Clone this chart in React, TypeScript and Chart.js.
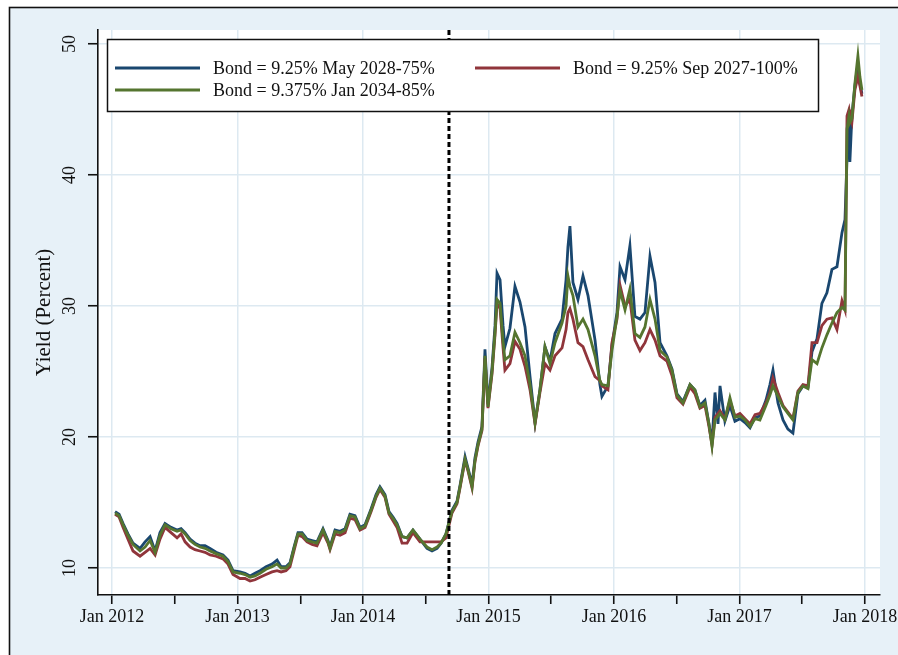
import React, { useEffect, useRef } from "react";
import { Chart, registerables } from "chart.js";

Chart.register(...registerables);

// Decimal-year dates of the observations
const dates = [
  2012.024, 2012.056, 2012.088, 2012.127, 2012.167, 2012.223, 2012.263, 2012.303, 2012.343, 2012.382,
  2012.422, 2012.47, 2012.518, 2012.55, 2012.582, 2012.622, 2012.661, 2012.701, 2012.741, 2012.781,
  2012.829, 2012.884, 2012.924, 2012.964, 2013.02, 2013.06, 2013.1, 2013.139, 2013.179, 2013.227,
  2013.275, 2013.315, 2013.347, 2013.386, 2013.418, 2013.45, 2013.482, 2013.514, 2013.554, 2013.594,
  2013.633, 2013.681, 2013.721, 2013.737, 2013.777, 2013.817, 2013.857, 2013.896, 2013.936, 2013.976,
  2014.016, 2014.064, 2014.104, 2014.135, 2014.175, 2014.207, 2014.239, 2014.271, 2014.311, 2014.351,
  2014.398, 2014.454, 2014.51, 2014.55, 2014.59, 2014.622, 2014.661, 2014.709, 2014.749, 2014.773,
  2014.813, 2014.837, 2014.869, 2014.892, 2014.916, 2014.948, 2014.972, 2014.996, 2015.028, 2015.052,
  2015.068, 2015.092, 2015.116, 2015.131, 2015.171, 2015.211, 2015.251, 2015.291, 2015.331, 2015.371,
  2015.41, 2015.45, 2015.49, 2015.53, 2015.586, 2015.618, 2015.633, 2015.649, 2015.673, 2015.713,
  2015.753, 2015.793, 2015.849, 2015.888, 2015.904, 2015.952, 2015.984, 2016.024, 2016.048, 2016.088,
  2016.127, 2016.167, 2016.207, 2016.247, 2016.287, 2016.327, 2016.367, 2016.422, 2016.462, 2016.502,
  2016.55, 2016.606, 2016.645, 2016.685, 2016.725, 2016.757, 2016.781, 2016.805, 2016.829, 2016.845,
  2016.884, 2016.924, 2016.964, 2017.004, 2017.044, 2017.084, 2017.124, 2017.163, 2017.211, 2017.243,
  2017.267, 2017.307, 2017.347, 2017.386, 2017.426, 2017.466, 2017.506, 2017.546, 2017.578, 2017.618,
  2017.657, 2017.697, 2017.737, 2017.777, 2017.817, 2017.841, 2017.857, 2017.873, 2017.88, 2017.896,
  2017.92, 2017.944, 2017.96, 2017.976,
];

// Bond = 9.25% May 2028-75% (navy)
const bondMay2028 = [
  14.3, 14.1, 13.4, 12.6, 11.9, 11.5, 12.0, 12.4, 11.3, 12.7,
  13.4, 13.1, 12.9, 13.0, 12.7, 12.2, 11.9, 11.7, 11.7, 11.5,
  11.2, 11.0, 10.6, 9.8, 9.7, 9.6, 9.4, 9.6, 9.8, 10.1,
  10.3, 10.6, 10.1, 10.1, 10.4, 11.6, 12.7, 12.7, 12.2, 12.1,
  12.0, 13.0, 12.1, 11.6, 12.9, 12.8, 13.0, 14.1, 14.0, 13.1,
  13.3, 14.5, 15.6, 16.2, 15.6, 14.3, 13.9, 13.4, 12.4, 12.3,
  12.9, 12.2, 11.5, 11.3, 11.5, 11.9, 12.6, 14.4, 15.1, 16.3,
  18.5, 17.6, 16.4, 18.4, 19.6, 20.8, 26.7, 22.5, 25.3, 28.5,
  32.5, 32.0, 28.5, 26.9, 28.3, 31.5, 30.3, 28.4, 24.6, 21.1,
  23.6, 26.9, 25.8, 27.9, 29.0, 32.0, 34.5, 36.1, 31.8, 30.5,
  32.3, 30.8, 27.4, 24.0, 23.1, 23.9, 27.0, 29.5, 33.0, 32.0,
  34.6, 29.2, 29.0, 29.5, 33.8, 31.8, 27.2, 26.2, 25.2, 23.3,
  22.7, 24.0, 23.6, 22.4, 22.8, 21.0, 19.6, 23.4, 21.0, 23.9,
  21.2, 22.4, 21.2, 21.4, 21.1, 20.7, 21.5, 21.6, 22.8, 24.0,
  25.1, 22.6, 21.3, 20.6, 20.3, 23.3, 23.9, 23.8, 26.5, 27.5,
  30.2, 31.0, 32.8, 33.0, 35.6, 36.6, 41.2, 44.0, 41.0, 44.5,
  46.8, 48.5, 47.0, 46.2,
];

// Bond = 9.25% Sep 2027-100% (maroon)
const bondSep2027 = [
  14.1, 13.9, 13.1, 12.2, 11.3, 10.9, 11.2, 11.5, 11.0, 12.2,
  13.1, 12.7, 12.3, 12.6, 12.0, 11.6, 11.4, 11.3, 11.2, 11.0,
  10.9, 10.7, 10.3, 9.5, 9.2, 9.2, 9.0, 9.1, 9.3, 9.5,
  9.7, 9.8, 9.7, 9.8, 10.1, 11.3, 12.5, 12.4, 12.0, 11.8,
  11.7, 12.7, 11.9, 11.4, 12.6, 12.5, 12.7, 13.8, 13.7, 12.9,
  13.1, 14.3, 15.4, 16.0, 15.4, 14.1, 13.6, 13.1, 11.9, 11.9,
  12.7, 12.0, 12.0, 12.0, 12.0, 12.0, 12.3, 14.2, 14.9, 16.1,
  18.2, 17.4, 16.1, 18.1, 19.3, 20.5, 26.0, 22.2, 24.8, 27.8,
  30.2, 29.8, 26.8, 25.1, 25.6, 27.3, 26.7, 25.4, 23.6, 21.0,
  23.4, 25.6, 25.1, 26.2, 26.8, 28.2, 29.5, 29.8, 29.0, 27.2,
  26.9, 25.9, 24.6, 24.3, 23.9, 23.6, 27.2, 29.0, 31.6, 30.0,
  30.5, 27.4, 26.6, 27.2, 28.2, 27.4, 26.2, 25.8, 24.7, 23.0,
  22.5, 23.8, 23.3, 22.2, 22.4, 20.8, 19.4, 21.5, 21.8, 22.0,
  21.4, 22.8, 21.6, 21.8, 21.4, 21.0, 21.7, 21.8, 22.6, 23.4,
  24.5, 23.4, 22.4, 21.9, 21.4, 23.5, 24.0, 23.9, 27.2, 27.2,
  28.5, 29.0, 29.1, 28.2, 30.4, 29.7, 44.5, 45.0, 44.5, 44.0,
  46.5, 47.5, 46.8, 46.0,
];

// Bond = 9.375% Jan 2034-85% (forest green)
const bondJan2034 = [
  14.2, 14.0, 13.3, 12.5, 11.8, 11.3, 11.6, 12.1, 11.2, 12.5,
  13.3, 13.0, 12.8, 12.9, 12.6, 12.1, 11.8, 11.6, 11.5, 11.3,
  11.1, 10.9, 10.5, 9.7, 9.6, 9.5, 9.3, 9.4, 9.6, 9.9,
  10.1, 10.3, 10.0, 10.0, 10.3, 11.5, 12.6, 12.6, 12.1, 12.0,
  11.9, 12.9, 12.0, 11.5, 12.8, 12.7, 12.9, 14.0, 13.9, 13.0,
  13.2, 14.4, 15.5, 16.1, 15.5, 14.2, 13.8, 13.3, 12.4, 12.3,
  12.9, 12.2, 11.6, 11.4, 11.6, 11.9, 12.6, 14.3, 15.0, 16.2,
  18.3, 17.5, 16.2, 18.2, 19.4, 20.6, 26.2, 22.3, 25.0, 28.0,
  30.5, 30.2, 27.3, 25.9, 26.2, 28.0, 27.2, 26.2, 24.0, 21.1,
  23.6, 26.9, 25.6, 27.2, 28.7, 30.0, 32.3, 31.5, 30.8, 28.4,
  29.0, 28.2, 26.2, 24.3, 24.0, 23.9, 26.6, 29.2, 31.2, 29.7,
  31.3, 27.9, 27.6, 28.4, 30.5, 29.0, 26.6, 26.1, 25.1, 23.2,
  22.6, 24.0, 23.6, 22.3, 22.6, 21.0, 19.3, 21.3, 21.6, 21.8,
  21.3, 23.0, 21.5, 21.6, 21.3, 20.8, 21.4, 21.3, 22.4, 23.2,
  23.9, 23.1, 22.3, 21.8, 21.3, 23.4, 23.9, 23.7, 25.9, 25.6,
  26.8, 27.8, 28.7, 29.5, 29.9, 29.7, 43.5, 44.5, 44.0, 44.3,
  47.0, 49.1, 47.5, 46.5,
];

const seriesLabels = [
  "Bond = 9.25% May 2028-75%",
  "Bond = 9.25% Sep 2027-100%",
  "Bond = 9.375% Jan 2034-85%",
];
const seriesColors = ["#1a476f", "#90353b", "#55752f"];

const xTickValues = [2012, 2012.5, 2013, 2013.5, 2014, 2014.5, 2015, 2015.5, 2016, 2016.5, 2017, 2017.5, 2018];
const yTickValues = [10, 20, 30, 40, 50];
const eventDate = 2014.685;
const yAxisTitle = "Yield (Percent)";

const FONT = "'Liberation Serif', 'Times New Roman', serif";
const OUTER_BG = "#e7f1f8";
const GRID = "#dde9f1";

export default function App() {
  const ref = useRef<HTMLCanvasElement | null>(null);

  useEffect(() => {
    document.body.style.margin = "0";
    const canvas = ref.current;
    if (!canvas) return;

    const bgPlugin = {
      id: "bgPlugin",
      beforeDraw(chart: any) {
        const { ctx, width, height, chartArea: ca } = chart;
        ctx.save();
        ctx.fillStyle = "#ffffff";
        ctx.fillRect(0, 0, width, height);
        ctx.fillStyle = OUTER_BG;
        ctx.fillRect(9, 7, width, height);
        ctx.fillStyle = "#ffffff";
        ctx.fillRect(ca.left, ca.top, ca.right - ca.left, ca.bottom - ca.top);
        ctx.strokeStyle = "#111";
        ctx.lineWidth = 1.6;
        ctx.strokeRect(9.5, 7.5, width + 20, height + 20);
        ctx.restore();
      },
    };

    const eventLine = {
      id: "eventLine",
      afterDatasetsDraw(chart: any) {
        const { ctx, chartArea: ca, scales } = chart;
        const x = scales.x.getPixelForValue(eventDate);
        ctx.save();
        ctx.strokeStyle = "#000";
        ctx.lineWidth = 3;
        ctx.setLineDash([5, 3]);
        ctx.beginPath();
        ctx.moveTo(x, ca.top);
        ctx.lineTo(x, ca.bottom);
        ctx.stroke();
        ctx.restore();
      },
    };

    const legendPlugin = {
      id: "boxLegend",
      afterDraw(chart: any) {
        const { ctx, chartArea: ca } = chart;
        const bx = ca.left + 9;
        const by = ca.top + 9;
        const bw = 711;
        const bh = 72;
        ctx.save();
        ctx.fillStyle = "#fff";
        ctx.fillRect(bx, by, bw, bh);
        ctx.strokeStyle = "#111";
        ctx.lineWidth = 1.5;
        ctx.strokeRect(bx + 0.5, by + 0.5, bw, bh);
        const entries = [
          { ds: 0, col: 0, row: 0 },
          { ds: 1, col: 1, row: 0 },
          { ds: 2, col: 0, row: 1 },
        ];
        const colX = [bx + 8, bx + 368];
        const rowY = [by + 29, by + 51];
        ctx.font = `18px ${FONT}`;
        ctx.textBaseline = "middle";
        ctx.textAlign = "left";
        for (const e of entries) {
          const x0 = colX[e.col];
          const y0 = rowY[e.row];
          ctx.strokeStyle = seriesColors[e.ds];
          ctx.lineWidth = 2.8;
          ctx.beginPath();
          ctx.moveTo(x0, y0);
          ctx.lineTo(x0 + 85, y0);
          ctx.stroke();
          ctx.fillStyle = "#111";
          ctx.fillText(chart.data.datasets[e.ds].label, x0 + 98, y0 + 1);
        }
        ctx.restore();
      },
    };

    const mk = (vals: number[], i: number) => ({
      label: seriesLabels[i],
      data: dates.map((d, k) => ({ x: d, y: vals[k] })),
      borderColor: seriesColors[i],
      backgroundColor: seriesColors[i],
      borderWidth: 2.8,
      pointRadius: 0,
      tension: 0,
      fill: false,
      order: 3 - i,
    });

    const chart = new Chart(canvas, {
      type: "line",
      data: {
        datasets: [mk(bondMay2028, 0), mk(bondSep2027, 1), mk(bondJan2034, 2)],
      },
      options: {
        responsive: false,
        animation: false,
        devicePixelRatio: 1,
        layout: { padding: { left: 0, top: 30, right: 18, bottom: 0 } },
        plugins: {
          legend: { display: false },
          tooltip: { enabled: false },
        },
        scales: {
          x: {
            type: "linear",
            min: 2011.888,
            max: 2018.12,
            afterBuildTicks: (s: any) => {
              s.ticks = xTickValues.map((v) => ({ value: v }));
            },
            afterFit: (s: any) => {
              s.height = 60;
              s.paddingLeft = 0;
              s.paddingRight = 0;
            },
            grid: {
              color: (c: any) => (c.tick && Number.isInteger(c.tick.value) ? GRID : "rgba(0,0,0,0)"),
              lineWidth: 1.5,
              drawTicks: true,
              tickLength: 9,
              tickColor: "#111",
              tickWidth: 1.6,
            },
            border: { display: true, color: "#111", width: 1.6 },
            ticks: {
              autoSkip: false,
              maxRotation: 0,
              minRotation: 0,
              padding: 2,
              color: "#111",
              font: { family: FONT, size: 18 },
              callback: (v: any) => (Number.isInteger(Number(v)) ? `Jan ${v}` : ""),
            },
          },
          y: {
            type: "linear",
            min: 7.94,
            max: 51.07,
            afterBuildTicks: (s: any) => {
              s.ticks = yTickValues.map((v) => ({ value: v }));
            },
            afterFit: (s: any) => {
              s.width = 98;
              s.paddingTop = 0;
              s.paddingBottom = 0;
            },
            grid: {
              color: GRID,
              lineWidth: 1.5,
              drawTicks: true,
              tickLength: 10,
              tickColor: "#111",
              tickWidth: 1.6,
            },
            border: { display: true, color: "#111", width: 1.6 },
            ticks: {
              minRotation: 90,
              maxRotation: 90,
              crossAlign: "center",
              padding: 9,
              color: "#111",
              font: { family: FONT, size: 18 },
            },
            title: {
              display: true,
              text: yAxisTitle,
              color: "#111",
              font: { family: FONT, size: 21 },
              padding: { top: 32, bottom: 0 },
            },
          },
        },
      },
      plugins: [bgPlugin, eventLine, legendPlugin],
    } as any);

    return () => chart.destroy();
  }, []);

  return (
    <div style={{ width: 898, height: 655 }}>
      <canvas ref={ref} width={898} height={655} style={{ display: "block", width: 898, height: 655 }} />
    </div>
  );
}
